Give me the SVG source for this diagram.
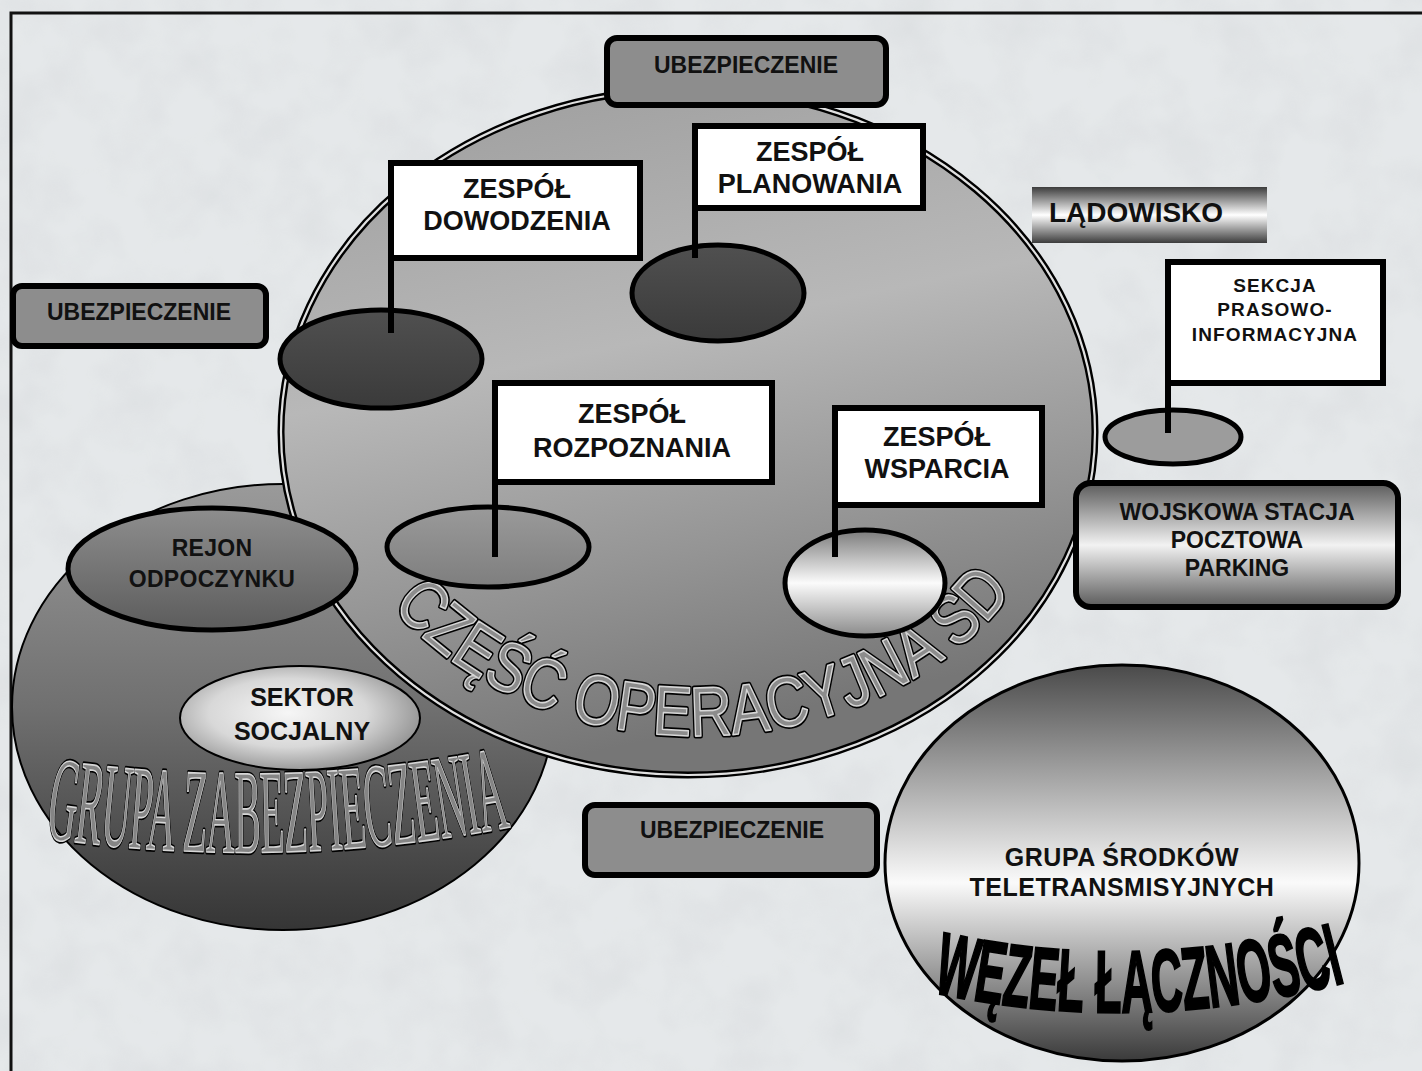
<svg xmlns="http://www.w3.org/2000/svg" width="1422" height="1071" viewBox="0 0 1422 1071">
  <style>
    .lbl { font-family: "Liberation Sans", Arial, sans-serif; font-weight: bold; fill: #111; text-anchor: middle; }
    .flag { fill: #fff; stroke: #000; stroke-width: 6; }
    .pole { stroke: #000; stroke-width: 6; fill: none; }
    .pad { stroke: #000; stroke-width: 5; }
    .ubez { fill: #8d8d8d; stroke: #000; stroke-width: 6; }
    .outA { fill: none; stroke: #000; stroke-width: 5; stroke-linejoin: round; }
    .outB { stroke: #d6d6d6; stroke-width: 1.6; stroke-linejoin: round; }
  </style>
  <defs>
    <filter id="paper" x="0" y="0" width="100%" height="100%">
      <feTurbulence type="fractalNoise" baseFrequency="0.018" numOctaves="3" seed="7"/>
      <feColorMatrix type="matrix" values="0 0 0 0 0.62  0 0 0 0 0.64  0 0 0 0 0.66  1.4 0 0 0 -0.55"/>
    </filter>
    <linearGradient id="gBig" x1="0" y1="0" x2="0.25" y2="1">
      <stop offset="0" stop-color="#9c9c9c"/>
      <stop offset="0.45" stop-color="#b8b8b8"/>
      <stop offset="0.75" stop-color="#959595"/>
      <stop offset="1" stop-color="#767676"/>
    </linearGradient>
    <linearGradient id="gGrupa" x1="0" y1="0" x2="0" y2="1">
      <stop offset="0" stop-color="#9a9a9a"/>
      <stop offset="0.5" stop-color="#707070"/>
      <stop offset="1" stop-color="#353535"/>
    </linearGradient>
    <linearGradient id="gRejon" x1="0" y1="0" x2="0" y2="1">
      <stop offset="0" stop-color="#8e8e8e"/>
      <stop offset="1" stop-color="#5c5c5c"/>
    </linearGradient>
    <radialGradient id="gSektor" cx="0.45" cy="0.45" r="0.6">
      <stop offset="0" stop-color="#f6f6f6"/>
      <stop offset="0.55" stop-color="#d8d8d8"/>
      <stop offset="1" stop-color="#8c8c8c"/>
    </radialGradient>
    <linearGradient id="gDark" x1="0" y1="0" x2="0" y2="1">
      <stop offset="0" stop-color="#505050"/>
      <stop offset="1" stop-color="#3a3a3a"/>
    </linearGradient>
    <linearGradient id="gMid" x1="0" y1="0" x2="0" y2="1">
      <stop offset="0" stop-color="#9a9a9a"/>
      <stop offset="1" stop-color="#7e7e7e"/>
    </linearGradient>
    <linearGradient id="gBand" x1="0" y1="0" x2="0" y2="1">
      <stop offset="0" stop-color="#7a7a7a"/>
      <stop offset="0.5" stop-color="#fbfbfb"/>
      <stop offset="1" stop-color="#8a8a8a"/>
    </linearGradient>
    <linearGradient id="gLad" x1="0" y1="0" x2="0" y2="1">
      <stop offset="0" stop-color="#3c3c3c"/>
      <stop offset="0.5" stop-color="#ffffff"/>
      <stop offset="1" stop-color="#3c3c3c"/>
    </linearGradient>
    <linearGradient id="gPost" x1="0" y1="0" x2="0" y2="1">
      <stop offset="0" stop-color="#5a5a5a"/>
      <stop offset="0.5" stop-color="#f2f2f2"/>
      <stop offset="1" stop-color="#5a5a5a"/>
    </linearGradient>
    <linearGradient id="gWezel" x1="0" y1="0" x2="0" y2="1">
      <stop offset="0" stop-color="#4a4a4a"/>
      <stop offset="0.55" stop-color="#fafafa"/>
      <stop offset="1" stop-color="#3a3a3a"/>
    </linearGradient>
    <path id="arcGrupa" d="M45,838 Q280,872 515,826"/>
    <path id="arcCzesc" d="M392,606 A374,310 0 0 0 1030,566"/>
    <path id="arcWezel" d="M932,992 Q1140,1038 1354,980"/>
  </defs>

  <!-- paper background -->
  <rect width="1422" height="1071" fill="#e5e8ea"/>
  <rect width="1422" height="1071" filter="url(#paper)" opacity="0.45"/>
  <path d="M11,1071 V13 H1422" fill="none" stroke="#111" stroke-width="3"/>

  <!-- GRUPA ZABEZPIECZENIA area -->
  <g id="grupa-zabezpieczenia">
    <ellipse cx="283" cy="707" rx="271" ry="223" fill="url(#gGrupa)" stroke="#000" stroke-width="2"/>
  </g>

  <!-- WĘZEŁ ŁĄCZNOŚCI area -->
  <g id="wezel-lacznosci">
    <ellipse cx="1122" cy="863" rx="237" ry="198" fill="url(#gWezel)" stroke="#000" stroke-width="3"/>
    <text class="lbl" font-size="25" letter-spacing="0.5"><tspan x="1122" y="866">GRUPA ŚRODKÓW</tspan><tspan x="1122" y="896">TELETRANSMISYJNYCH</tspan></text>
    <text font-family="'Liberation Sans', Arial, sans-serif" font-weight="bold" font-size="88" fill="#000" stroke="#000" stroke-width="2.5"><textPath href="#arcWezel" textLength="418" lengthAdjust="spacingAndGlyphs">WĘZEŁ ŁĄCZNOŚCI</textPath></text>
  </g>

  <!-- CZĘŚĆ OPERACYJNA SD area -->
  <g id="czesc-operacyjna">
    <ellipse cx="688" cy="432" rx="407" ry="343" fill="url(#gBig)" stroke="#000" stroke-width="7"/>
    <ellipse cx="688" cy="432" rx="407" ry="343" fill="none" stroke="#e0e0e0" stroke-width="2.2"/>
    <text font-family="'Liberation Sans', Arial, sans-serif" font-size="70" class="outA"><textPath href="#arcCzesc" textLength="700" lengthAdjust="spacingAndGlyphs">CZĘŚĆ OPERACYJNA SD</textPath></text>
    <text font-family="'Liberation Sans', Arial, sans-serif" font-size="70" fill="#8c8c8c" class="outB"><textPath href="#arcCzesc" textLength="700" lengthAdjust="spacingAndGlyphs">CZĘŚĆ OPERACYJNA SD</textPath></text>
  </g>

  <!-- left area label and units -->
  <g id="grupa-label">
    <text font-family="'Liberation Serif', 'Times New Roman', serif" font-size="120" class="outA" stroke-width="4.5"><textPath href="#arcGrupa" textLength="468" lengthAdjust="spacingAndGlyphs">GRUPA ZABEZPIECZENIA</textPath></text>
    <text font-family="'Liberation Serif', 'Times New Roman', serif" font-size="120" fill="#858585" class="outB"><textPath href="#arcGrupa" textLength="468" lengthAdjust="spacingAndGlyphs">GRUPA ZABEZPIECZENIA</textPath></text>
  </g>
  <g id="rejon-odpoczynku">
    <ellipse cx="212" cy="569" rx="144" ry="61" fill="url(#gRejon)" stroke="#000" stroke-width="5"/>
    <text class="lbl" font-size="23" letter-spacing="0.3"><tspan x="212" y="556">REJON</tspan><tspan x="212" y="587">ODPOCZYNKU</tspan></text>
  </g>
  <g id="sektor-socjalny">
    <ellipse cx="300" cy="718" rx="120" ry="52" fill="url(#gSektor)" stroke="#000" stroke-width="2"/>
    <text class="lbl" font-size="25"><tspan x="302" y="706">SEKTOR</tspan><tspan x="302" y="740">SOCJALNY</tspan></text>
  </g>

  <!-- team flags -->
  <g id="zespol-dowodzenia">
    <ellipse cx="381" cy="359" rx="101" ry="49" fill="url(#gDark)" class="pad"/>
    <line x1="391" y1="163" x2="391" y2="333" class="pole"/>
    <rect x="391" y="163" width="249" height="95" class="flag"/>
    <text class="lbl" font-size="27"><tspan x="517" y="198">ZESPÓŁ</tspan><tspan x="517" y="230">DOWODZENIA</tspan></text>
  </g>
  <g id="zespol-planowania">
    <ellipse cx="718" cy="293" rx="86" ry="48" fill="url(#gDark)" class="pad"/>
    <line x1="695" y1="126" x2="695" y2="258" class="pole"/>
    <rect x="695" y="126" width="228" height="82" class="flag"/>
    <text class="lbl" font-size="27"><tspan x="810" y="161">ZESPÓŁ</tspan><tspan x="810" y="193">PLANOWANIA</tspan></text>
  </g>
  <g id="zespol-rozpoznania">
    <ellipse cx="488" cy="547" rx="101" ry="40" fill="url(#gMid)" class="pad"/>
    <line x1="495" y1="383" x2="495" y2="557" class="pole"/>
    <rect x="495" y="383" width="277" height="99" class="flag"/>
    <text class="lbl" font-size="27"><tspan x="632" y="423">ZESPÓŁ</tspan><tspan x="632" y="457">ROZPOZNANIA</tspan></text>
  </g>
  <g id="zespol-wsparcia">
    <ellipse cx="865" cy="583" rx="80" ry="53" fill="url(#gBand)" class="pad"/>
    <line x1="835" y1="408" x2="835" y2="557" class="pole"/>
    <rect x="835" y="408" width="207" height="97" class="flag"/>
    <text class="lbl" font-size="27"><tspan x="937" y="446">ZESPÓŁ</tspan><tspan x="937" y="478">WSPARCIA</tspan></text>
  </g>
  <g id="sekcja-prasowa">
    <ellipse cx="1173" cy="437" rx="68" ry="27" fill="#9c9c9c" class="pad"/>
    <line x1="1168" y1="260" x2="1168" y2="433" class="pole"/>
    <rect x="1168" y="262" width="215" height="121" class="flag"/>
    <text class="lbl" font-size="19" letter-spacing="1.1"><tspan x="1275" y="292">SEKCJA</tspan><tspan x="1275" y="316">PRASOWO-</tspan><tspan x="1275" y="341">INFORMACYJNA</tspan></text>
  </g>

  <!-- security posts -->
  <g id="ubezpieczenie-gora">
    <rect x="607" y="38" width="279" height="67" rx="10" class="ubez"/>
    <text class="lbl" font-size="23" x="746" y="73">UBEZPIECZENIE</text>
  </g>
  <g id="ubezpieczenie-lewo">
    <rect x="13" y="286" width="253" height="60" rx="9" class="ubez"/>
    <text class="lbl" font-size="23" x="139" y="320">UBEZPIECZENIE</text>
  </g>
  <g id="ubezpieczenie-dol">
    <rect x="585" y="805" width="292" height="70" rx="10" class="ubez"/>
    <text class="lbl" font-size="23" x="732" y="838">UBEZPIECZENIE</text>
  </g>

  <!-- other facilities -->
  <g id="ladowisko">
    <rect x="1032" y="187" width="235" height="56" fill="url(#gLad)"/>
    <text class="lbl" font-size="28" x="1136" y="222">LĄDOWISKO</text>
  </g>
  <g id="stacja-pocztowa">
    <rect x="1076" y="483" width="322" height="124" rx="15" fill="url(#gPost)" stroke="#000" stroke-width="6"/>
    <text class="lbl" font-size="23"><tspan x="1237" y="520">WOJSKOWA STACJA</tspan><tspan x="1237" y="548">POCZTOWA</tspan><tspan x="1237" y="576">PARKING</tspan></text>
  </g>
</svg>
